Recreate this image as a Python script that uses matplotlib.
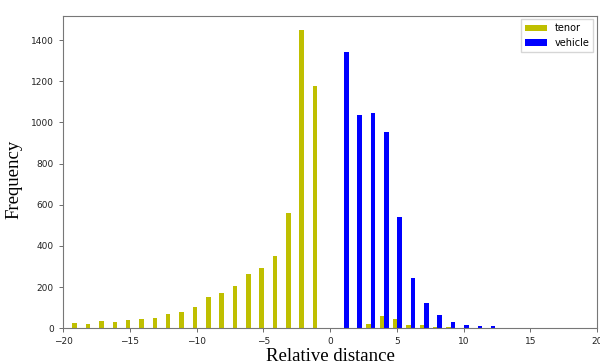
import numpy as np
import matplotlib
matplotlib.use('Agg')
import matplotlib.pyplot as plt

# relative distance bins (integers) and counts
tenor_x = [-19, -18, -17, -16, -15, -14, -13, -12, -11, -10,
           -9, -8, -7, -6, -5, -4, -3, -2, -1,
           3, 4, 5, 6, 7, 8, 9]
tenor_counts = [24, 21, 34, 31, 42, 45, 50, 70, 78, 104,
                154, 170, 204, 263, 295, 349, 561, 1447, 1178,
                23, 60, 45, 18, 18, 6, 6]

vehicle_x = [1, 2, 3, 4, 5, 6, 7, 8, 9, 10, 11, 12]
vehicle_counts = [1344, 1034, 1045, 954, 542, 246, 122, 65, 29, 14, 13, 10]

x_ticks = [-20, -15, -10, -5, 0, 5, 10, 15, 20]
y_ticks = [0, 200, 400, 600, 800, 1000, 1200, 1400]

fig = plt.figure(figsize=(6, 3.62), dpi=100)
ax = fig.add_axes([0.105, 0.093, 0.89, 0.864])

w = 0.34
ax.bar(np.array(tenor_x) - 0.12, tenor_counts, width=w, color='y', label='tenor')
ax.bar(np.array(vehicle_x) + 0.22, vehicle_counts, width=w, color='b', label='vehicle')

ax.set_xlim(-20, 20)
ax.set_xticks(x_ticks)
ax.set_yticks(y_ticks)
ax.tick_params(labelsize=6.5, length=3, width=0.6, color='#555555', labelcolor='#222222')
for s in ax.spines.values():
    s.set_color('#777777')
    s.set_linewidth(0.8)

ax.set_xlabel('Relative distance', fontfamily='Liberation Serif', fontsize=13.5, labelpad=1)
ax.set_ylabel('Frequency', fontfamily='Liberation Serif', fontsize=13.5, labelpad=6, y=0.475)

ax.legend(loc='upper right', fontsize=7, fancybox=False, handlelength=2.2,
          borderaxespad=0.4)

fig.savefig('out.png', dpi=100)
